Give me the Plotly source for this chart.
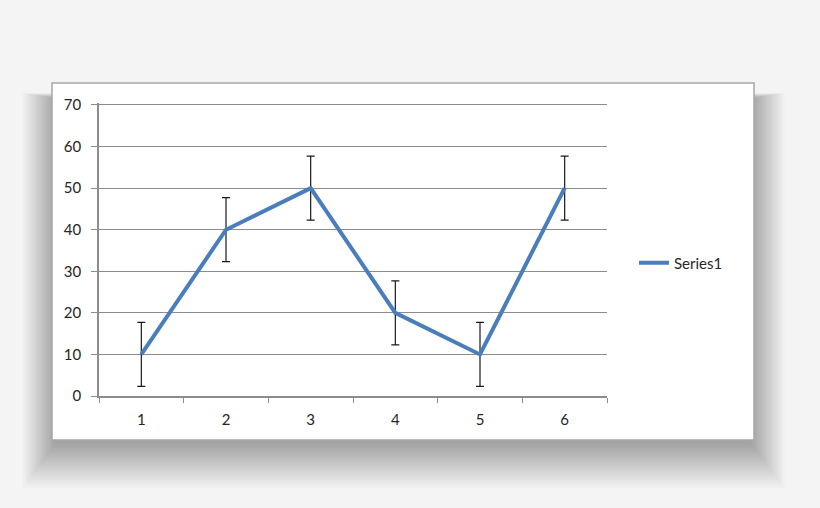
import plotly.graph_objects as go

# chart data
categories = ["1", "2", "3", "4", "5", "6"]
values = [10, 40, 50, 20, 10, 50]
errors = [7.7, 7.7, 7.7, 7.7, 7.7, 7.7]
series_name = "Series1"

W, H = 820, 508


def px_x(x):
    return x / W


def px_y(y):
    return 1 - y / H


fig = go.Figure()
fig.add_trace(go.Scatter(
    x=categories, y=values, name=series_name, mode="lines",
    line=dict(color="#4a7ebb", width=4),
    error_y=dict(type="data", array=errors, visible=True,
                 color="#1a1a1a", thickness=1.2, width=4),
))

# soft drop shadow behind the white chart box (stacked faint rects)
shapes = []
for i in range(28):
    e = i * 1.25
    shapes.append(dict(
        type="rect", xref="paper", yref="paper", layer="below",
        x0=px_x(56 - e), x1=px_x(751 + e),
        y0=px_y(443 + e * 1.35), y1=px_y(98 - e * 0.15),
        fillcolor="rgba(0,0,0,0.01)", line=dict(width=0),
    ))
shapes.append(dict(
    type="rect", xref="paper", yref="paper", layer="below",
    x0=px_x(52), x1=px_x(754), y0=px_y(440), y1=px_y(83),
    fillcolor="white", line=dict(color="#a6a6a6", width=1.5),
))

fig.update_layout(
    width=W, height=H,
    margin=dict(l=0, r=0, t=0, b=0, pad=0, autoexpand=False),
    paper_bgcolor="#f4f4f4",
    plot_bgcolor="rgba(0,0,0,0)",
    font=dict(family="Lato, Open Sans, sans-serif", size=15, color="#262626"),
    shapes=shapes,
    showlegend=True,
    legend=dict(x=px_x(634), y=px_y(263), xanchor="left", yanchor="middle",
                bgcolor="rgba(0,0,0,0)", font=dict(size=15)),
    xaxis=dict(
        domain=[px_x(99), px_x(607)],
        type="category", range=[-0.5, 5.5], automargin=False,
        tickson="boundaries", ticks="outside", ticklen=5, tickcolor="#8c8c8c",
        ticklabelstandoff=9,
        showline=True, linecolor="#8c8c8c", linewidth=1.5,
        showgrid=False, zeroline=False, fixedrange=True,
    ),
    yaxis=dict(
        domain=[px_y(396), px_y(102.9)],
        range=[0, 70.5], tickvals=[0, 10, 20, 30, 40, 50, 60, 70],
        automargin=False,
        ticks="outside", ticklen=6, tickcolor="#8c8c8c",
        ticklabelstandoff=7,
        showline=True, linecolor="#8c8c8c", linewidth=1.5,
        showgrid=True, gridcolor="#8c8c8c", gridwidth=1,
        zeroline=False, fixedrange=True,
    ),
)

fig.write_html(
    "out.html",
    config={"displayModeBar": False},
    post_script="document.body.style.margin='0';"
                "document.body.style.background='#f4f4f4';",
)
